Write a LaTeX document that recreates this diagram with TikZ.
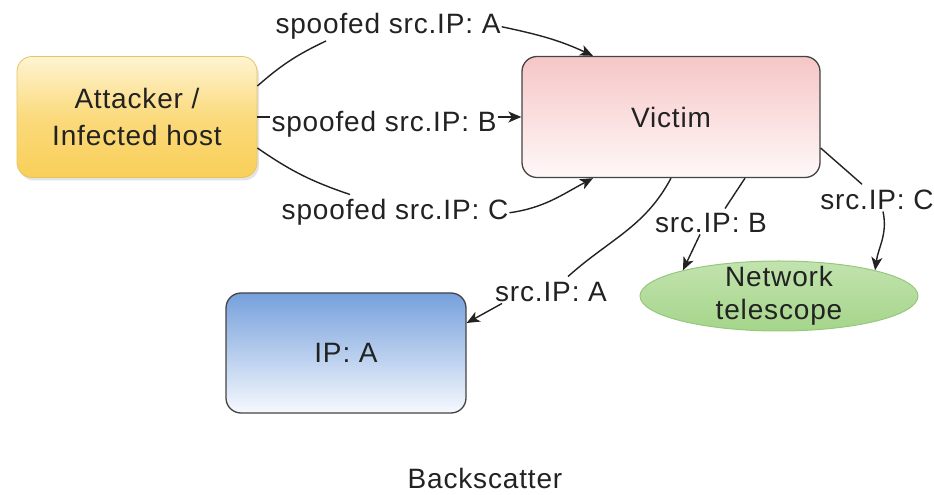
\documentclass[tikz,border=0pt]{standalone}
\usepackage{fontspec}
\setmainfont{Liberation Sans}[LetterSpace=3]
\usetikzlibrary{shapes.geometric,arrows.meta,shadows}

\definecolor{ink}{HTML}{222222}
\definecolor{rim}{HTML}{444444}
\definecolor{goldtop}{HTML}{FFF4D2}
\definecolor{goldbot}{HTML}{F9CF58}
\definecolor{goldrim}{HTML}{E3C466}
\definecolor{rosetop}{HTML}{F6C6C6}
\definecolor{rosebot}{HTML}{FFF8F8}
\definecolor{bluetop}{HTML}{76A0DC}
\definecolor{bluebot}{HTML}{F6F9FE}
\definecolor{greentop}{HTML}{C2E3AE}
\definecolor{greenbot}{HTML}{A5D58B}
\definecolor{greenrim}{HTML}{96C87C}

\newcommand\diagfont{\fontsize{28}{37}\selectfont}

\begin{document}
\begin{tikzpicture}[x=1pt,y=1pt,
  every node/.style={text=ink},
  box/.style={rectangle, rounded corners=15pt, minimum width=240pt,
    minimum height=121pt, inner sep=0pt, line width=1.3pt, draw=rim,
    align=center, font=\diagfont},
  lbl/.style={inner sep=1pt, font=\diagfont, anchor=base},
  link/.style={line width=1.4pt, draw=ink},
  arr/.style={link, -{Stealth[length=13pt,width=11pt,inset=3.5pt]}}
]
\useasboundingbox (0,0) rectangle (934,495);

% hosts
\node[box, draw=goldrim, line width=0.8pt, top color=goldtop, bottom color=goldbot,
  middle color=goldbot!70!goldtop,
  drop shadow={opacity=0.22, shadow xshift=2pt, shadow yshift=-3pt}]
  (att) at (137,378) {Attacker /\\Infected host};
\node[box, minimum width=298pt, top color=rosetop, bottom color=rosebot]
  (vic) at (671,378) {Victim};
\node[box, minimum height=120pt, top color=bluetop, bottom color=bluebot]
  (ipa) at (346,142) {IP: A};
\node[ellipse, minimum width=278pt, minimum height=70pt, inner sep=0pt,
  draw=greenrim, line width=1pt, top color=greentop, bottom color=greenbot]
  (tel) at (779,199) {};
\node[align=center, inner sep=0pt, font=\fontsize{28}{33}\selectfont]
  (telname) at (tel.center) {Network\\telescope};

% edge labels
\node[lbl] (lA)  at (388,461) {spoofed src.IP: A};
\node[lbl] (lB)  at (384,363) {spoofed src.IP: B};
\node[lbl] (lC)  at (395,275) {spoofed src.IP: C};
\node[lbl] (lsa) at (551,193) {src.IP: A};
\node[lbl] (lsb) at (711,262) {src.IP: B};
\node[lbl] (lsc) at (877,285) {src.IP: C};

% spoofed packets
\draw[link] ([yshift=31pt]att.east) to[bend left=8] ([xshift=-62pt]lA.south);
\draw[arr]  (lA.east) to[out=-12, in=155] ([xshift=-78pt]vic.north);

\draw[link] (att.east) -- (att.east -| lB.west);
\draw[arr]  (lB.east |- vic.west) -- (vic.west);

\draw[link] ([yshift=-31pt]att.east) to[bend right=8] ([xshift=-45pt,yshift=4pt]lC.north);
\draw[arr]  (lC.east) to[out=8, in=-152] ([xshift=-78pt]vic.south);

% backscatter replies
\draw[link] (vic.south) to[out=-118, in=42] ([xshift=17pt,yshift=5pt]lsa.north);
\draw[arr]  ([xshift=-49pt]lsa.south) -- ([yshift=30pt]ipa.east);

\draw[link] ([xshift=74pt]vic.south) -- ([xshift=14pt,yshift=4pt]lsb.north);
\draw[arr]  ([xshift=-11pt]lsb.south) -- (tel.165);

\draw[link] ([yshift=-31pt]vic.east) -- ([xshift=-15pt,yshift=5pt]lsc.north);
\draw[arr]  ([xshift=6pt]lsc.south) to[out=-78, in=82] (tel.15);

% caption
\node[lbl] (cap) at (485,6) {Backscatter};
\end{tikzpicture}
\end{document}
